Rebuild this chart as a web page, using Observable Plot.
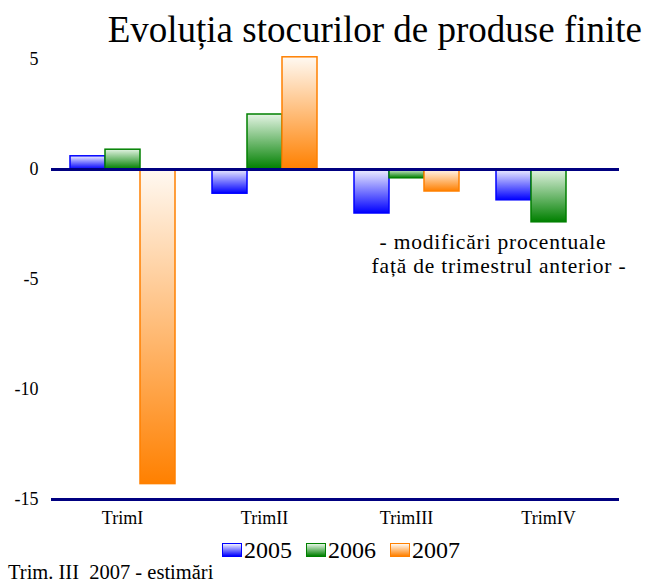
<!DOCTYPE html>
<html>
<head>
<meta charset="utf-8">
<script src="https://cdn.jsdelivr.net/npm/d3@7"></script>
<script src="https://cdn.jsdelivr.net/npm/@observablehq/plot@0.6"></script>
<style>
  html, body { margin: 0; padding: 0; background: #fff; }
  #wrap { position: relative; width: 648px; height: 583px; overflow: hidden; font-family: "Liberation Serif", "Times New Roman", serif; color: #000; }
  #chart { position: absolute; left: 0; top: 0; }
  .title { position: absolute; right: 6px; top: 11px; font-size: 37px; line-height: 1; white-space: nowrap; }
  .note { position: absolute; left: 356px; width: 274px; font-size: 21.5px; line-height: 24px; letter-spacing: 0.8px; text-align: center; white-space: nowrap; }
  .legend { position: absolute; left: 222px; top: 538px; display: flex; align-items: center; font-size: 24px; line-height: 1; }
  .legend .item { display: flex; align-items: center; margin-right: 14px; }
  .legend .sw { width: 18px; height: 12px; border: 1.5px solid; margin-right: 2px; }
  .footer { position: absolute; left: 8px; top: 562px; font-size: 20.5px; line-height: 1; white-space: pre; }
</style>
</head>
<body>
<div id="wrap">
  <div id="chart"></div>
  <div class="title">Evoluția stocurilor de produse finite</div>
  <div class="note" style="top: 230px;">- modificări procentuale</div>
  <div class="note" style="top: 254px; left: 362px;">față de trimestrul anterior -</div>
  <div class="legend" id="legend"></div>
  <div class="footer">Trim. III  2007 - estimări</div>
</div>
<script>
const quarters = ["TrimI", "TrimII", "TrimIII", "TrimIV"];
const years = ["2005", "2006", "2007"];
const values2005 = [0.6, -1.1, -2.0, -1.4];
const values2006 = [0.9, 2.5, -0.4, -2.4];
const values2007 = [-14.3, 5.1, -1.0, null];
const yTicks = [5, 0, -5, -10, -15];
const colors = {"2005": "#0000ff", "2006": "#008000", "2007": "#ff8000"};
const lightColors = {"2005": "#f2f2ff", "2006": "#e4f4e4", "2007": "#fff9f2"};

const seriesValues = {"2005": values2005, "2006": values2006, "2007": values2007};
const table = [];
quarters.forEach((q, i) => {
  years.forEach(yr => {
    table.push({quarter: q, year: yr, value: seriesValues[yr][i]});
  });
});

const barMarks = years.map(yr => Plot.barY(table, {
  x: "year",
  y: "value",
  filter: d => d.year === yr && d.value != null,
  fill: `url(#grad${yr})`,
  stroke: colors[yr],
  strokeWidth: 1.5,
  inset: 0
}));

const plot = Plot.plot({
  width: 648,
  height: 540,
  marginTop: 59,
  marginBottom: 41,
  marginLeft: 49,
  marginRight: 28,
  style: { fontFamily: "Liberation Serif, Times New Roman, serif", fontSize: "18px", color: "#000", background: "transparent" },
  facet: { data: table, x: "quarter" },
  fx: { domain: quarters, padding: 0, label: null, axis: "bottom", tickSize: 0, tickPadding: 12 },
  x: { domain: years, axis: null, paddingInner: 0, paddingOuter: 0.5 },
  y: { domain: [-15, 5], ticks: yTicks, tickSize: 0, tickPadding: 13, tickFormat: d => String(d), label: null },
  marks: [
    ...barMarks,
    Plot.ruleY([0, -15], { stroke: "#000080", strokeWidth: 3 })
  ]
});

// gradients for the bar fills
const svg = d3.select(plot.tagName.toLowerCase() === "svg" ? plot : plot.querySelector("svg"));
const defs = svg.insert("defs", ":first-child");
years.forEach(yr => {
  const g = defs.append("linearGradient").attr("id", `grad${yr}`)
    .attr("x1", 0).attr("y1", 0).attr("x2", 0).attr("y2", 1);
  g.append("stop").attr("offset", "0%").attr("stop-color", lightColors[yr]);
  g.append("stop").attr("offset", "100%").attr("stop-color", colors[yr]);
});
document.getElementById("chart").appendChild(plot);

// legend
const legend = d3.select("#legend");
years.forEach(yr => {
  const item = legend.append("div").attr("class", "item");
  item.append("div").attr("class", "sw")
    .style("border-color", colors[yr])
    .style("background", `linear-gradient(${lightColors[yr]}, ${colors[yr]})`);
  item.append("span").text(yr);
});
</script>
</body>
</html>
